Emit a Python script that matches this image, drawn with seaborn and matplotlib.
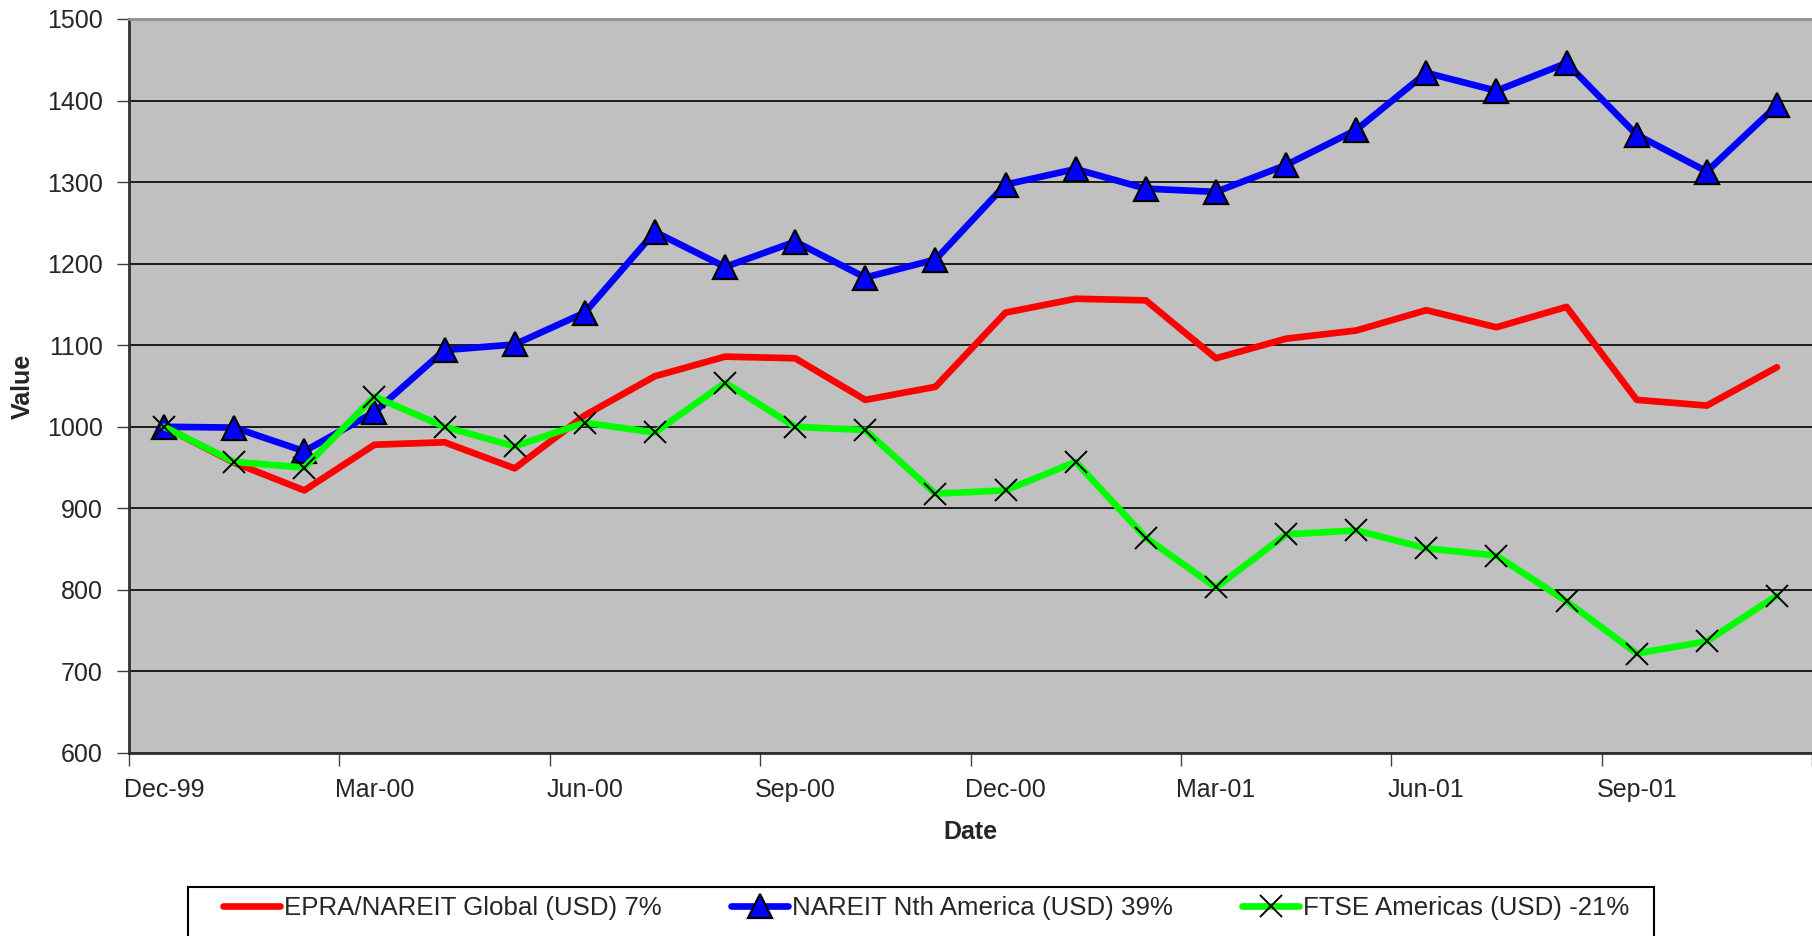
import pandas as pd
import matplotlib.pyplot as plt
import seaborn as sns
from matplotlib.patches import Rectangle
from matplotlib.ticker import FixedLocator

# month labels (Dec-99 .. Nov-01)
months = ['Dec-99', 'Jan-00', 'Feb-00', 'Mar-00', 'Apr-00', 'May-00', 'Jun-00', 'Jul-00',
          'Aug-00', 'Sep-00', 'Oct-00', 'Nov-00', 'Dec-00', 'Jan-01', 'Feb-01', 'Mar-01',
          'Apr-01', 'May-01', 'Jun-01', 'Jul-01', 'Aug-01', 'Sep-01', 'Oct-01', 'Nov-01']

epra = [1000, 956, 922, 978, 981, 949, 1014, 1062, 1086, 1084, 1033, 1049,
        1140, 1157, 1155, 1084, 1108, 1118, 1143, 1122, 1147, 1033, 1026, 1073]
nareit = [1000, 999, 970, 1018, 1094, 1101, 1140, 1239, 1196, 1227, 1183, 1205,
          1297, 1316, 1292, 1288, 1321, 1364, 1434, 1412, 1446, 1358, 1313, 1394]
ftse = [1000, 957, 950, 1037, 1000, 976, 1005, 993, 1054, 1000, 996, 918,
        922, 957, 864, 803, 868, 873, 851, 842, 786, 722, 737, 793]

labels = ['EPRA/NAREIT Global (USD) 7%', 'NAREIT Nth America (USD) 39%', 'FTSE Americas (USD) -21%']

df = pd.DataFrame({'pos': range(len(months)), 'month': months,
                   'epra': epra, 'nareit': nareit, 'ftse': ftse})

sns.set_style('white')
plt.rcParams['font.family'] = ['Liberation Sans', 'DejaVu Sans']

fig = plt.figure(figsize=(18.12, 9.36), dpi=100)
ax = fig.add_axes([129 / 1812, 1 - 753 / 936, 1 - 129 / 1812, (753 - 19) / 936])
ax.set_facecolor('#C0C0C0')

lw = 4.8
sns.lineplot(data=df, x='pos', y='epra', ax=ax, color='#FF0000', linewidth=lw,
             label=labels[0], zorder=3)
sns.lineplot(data=df, x='pos', y='nareit', ax=ax, color='#0000FF', linewidth=lw,
             marker='^', markersize=17, markerfacecolor='#0000FF', markeredgecolor='black',
             markeredgewidth=1.6, label=labels[1], zorder=4)
sns.lineplot(data=df, x='pos', y='ftse', ax=ax, color='#00FF00', linewidth=lw,
             marker='x', markersize=16, markeredgecolor='black', markeredgewidth=1.4,
             label=labels[2], zorder=5)

ax.set_xlim(-0.5, len(months) - 0.5)
ax.set_ylim(600, 1500)
ax.set_yticks(range(600, 1501, 100))
ax.yaxis.grid(True, color='black', linewidth=1.2)
ax.set_axisbelow(True)

# labels every quarter, tick marks between categories
ax.set_xticks(df['pos'][::3])
ax.set_xticklabels(df['month'][::3])
ax.xaxis.set_minor_locator(FixedLocator([p - 0.5 for p in range(0, len(months) + 1, 3)]))
ax.tick_params(axis='x', which='major', length=0, pad=18, labelsize=18)
ax.tick_params(axis='x', which='minor', length=9, width=1, color='#404040', direction='out', bottom=True)
ax.tick_params(axis='y', which='major', length=9, width=1, color='#404040', direction='out',
               pad=10, labelsize=18, left=True)

for side in ['left', 'bottom']:
    ax.spines[side].set_color('#303030')
    ax.spines[side].set_linewidth(2)
ax.spines['top'].set_color('#909090')
ax.spines['top'].set_linewidth(2)
ax.spines['right'].set_visible(False)

ax.set_xlabel('Date', fontsize=18, fontweight='bold')
ax.set_ylabel('Value', fontsize=18, fontweight='bold')
ax.xaxis.label.set_va('center')
ax.yaxis.label.set_va('center')
ax.xaxis.set_label_coords(0.5, (753 - 832) / 734)
ax.yaxis.set_label_coords((23 - 129) / 1683, 0.5)

handles, _ = ax.get_legend_handles_labels()
ax.get_legend().remove()
fig.legend(handles, labels, loc='center left', bbox_to_anchor=(223 / 1812, 1 - 908 / 936),
           ncol=3, frameon=False, fontsize=18.6, handlelength=2.2, handletextpad=0.15,
           columnspacing=2.7, borderpad=0, borderaxespad=0)
fig.patches.append(Rectangle((188 / 1812, -0.05), (1654 - 188) / 1812, 0.05 + 1 - 887 / 936,
                             transform=fig.transFigure, facecolor='white', edgecolor='black',
                             linewidth=1.5, zorder=0))

fig.savefig('out.png', dpi=100)
